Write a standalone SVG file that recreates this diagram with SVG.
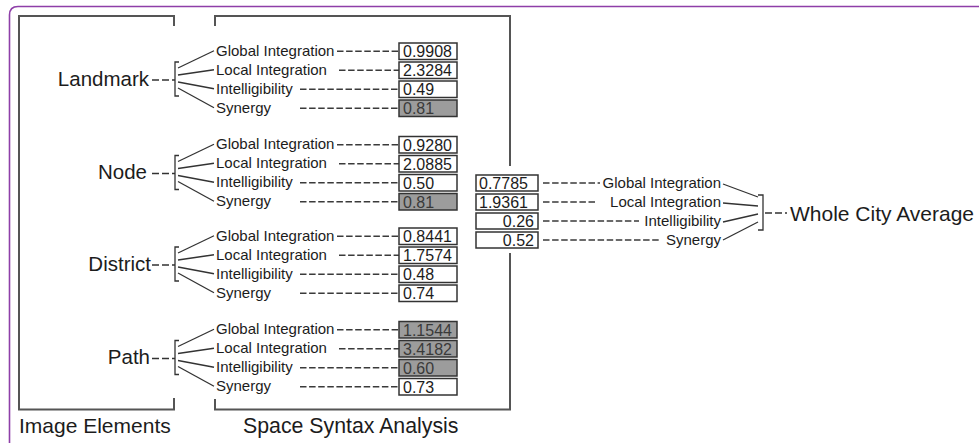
<svg xmlns="http://www.w3.org/2000/svg" width="979" height="443" viewBox="0 0 979 443">
  <style>
    text { font-family: "Liberation Sans", Arial, sans-serif; fill: #1c1c1c; }
    .cat { font-size: 20.5px; text-anchor: end; }
    .lbl { font-size: 15px; }
    .lblr { font-size: 15px; text-anchor: end; }
    .val { font-size: 16px; }
    .valr { font-size: 16px; text-anchor: end; }
    .big { font-size: 21px; }
    .box { fill: #fff; stroke: #333; stroke-width: 1.5; }
    .hi { fill: #9c9c9c; }
    .hi-t { fill: #3a3a3a; }
    .frame { fill: none; stroke: #555; stroke-width: 2; }
    .fan { stroke: #333; stroke-width: 1.3; fill: none; }
    .dash { stroke: #3a3a3a; stroke-width: 1.3; stroke-dasharray: 6.5 2.6; }
    .sdash { stroke: #333; stroke-width: 1.3; stroke-dasharray: 7 3; }
  </style>
  <defs>
    <!-- fan + bracket + dashed leaders shared by every category block (local coords) -->
    <g id="leaders">
      <line class="sdash" x1="152" y1="37" x2="175" y2="37"/>
      <path class="fan" d="M179 19 H175 V53 H179"/>
      <line class="fan" x1="178" y1="25" x2="214" y2="7.75"/>
      <line class="fan" x1="178" y1="32" x2="214" y2="26.75"/>
      <line class="fan" x1="178" y1="39" x2="214" y2="45.75"/>
      <line class="fan" x1="178" y1="45" x2="214" y2="64.75"/>
      <line class="dash" x1="337" y1="8.25" x2="399" y2="8.25"/>
      <line class="dash" x1="339" y1="27.25" x2="399" y2="27.25"/>
      <line class="dash" x1="300" y1="46.25" x2="399" y2="46.25"/>
      <line class="dash" x1="300" y1="65.25" x2="399" y2="65.25"/>
    </g>
    <g id="measures">
      <text class="lbl" x="216" y="12.75">Global Integration</text>
      <text class="lbl" x="216" y="31.75">Local Integration</text>
      <text class="lbl" x="216" y="50.75">Intelligibility</text>
      <text class="lbl" x="216" y="69.75">Synergy</text>
    </g>
  </defs>

  <rect width="979" height="443" fill="#fff"/>

  <!-- outer page edge -->
  <path d="M9.5 443 V15 Q9.5 6.5 18 6.5 H979" fill="none" stroke="#8e3fa8" stroke-width="1.6"/>

  <!-- section frames -->
  <g id="frames">
    <path class="frame" d="M174 26 V16 H19 V409.5 H174 V398"/>
    <path class="frame" d="M215 26 V16 H510 V166"/>
    <path class="frame" d="M510 253 V409.5 H215 V399"/>
    <text class="big" x="19" y="433">Image Elements</text>
    <text class="big" x="243" y="433" style="font-size:21.3px">Space Syntax Analysis</text>
  </g>

  <!-- connectors -->
  <g id="connectors">
    <use href="#leaders" transform="translate(0,43)"/>
    <use href="#leaders" transform="translate(0,136.5)"/>
    <use href="#leaders" transform="translate(0,228)"/>
    <use href="#leaders" transform="translate(0,321.5)"/>
    <!-- whole city side -->
    <line class="dash" x1="543" y1="183" x2="600" y2="183"/>
    <line class="dash" x1="543" y1="202" x2="597" y2="202"/>
    <line class="dash" x1="543" y1="221" x2="639" y2="221"/>
    <line class="dash" x1="543" y1="240" x2="660" y2="240"/>
    <line class="fan" x1="723" y1="184" x2="758" y2="197"/>
    <line class="fan" x1="723" y1="203" x2="758" y2="206"/>
    <line class="fan" x1="723" y1="222" x2="758" y2="214"/>
    <line class="fan" x1="723" y1="240" x2="758" y2="222"/>
    <path class="fan" d="M758 195 H763 V230 H758"/>
    <line class="sdash" x1="765" y1="213" x2="787" y2="213"/>
  </g>

  <!-- Landmark -->
  <g id="landmark" transform="translate(0,43)">
    <text class="cat" x="149" y="42.5">Landmark</text>
    <use href="#measures"/>
    <rect class="box" x="399" y="0" width="58" height="16.5"/>
    <rect class="box" x="399" y="19" width="58" height="16.5"/>
    <rect class="box" x="399" y="38" width="58" height="16.5"/>
    <rect class="box hi" x="399" y="57" width="58" height="16.5"/>
    <text class="val" x="403" y="14">0.9908</text>
    <text class="val" x="403" y="33">2.3284</text>
    <text class="val" x="403" y="52">0.49</text>
    <text class="val hi-t" x="403" y="71">0.81</text>
  </g>

  <!-- Node -->
  <g id="node" transform="translate(0,136.5)">
    <text class="cat" x="147" y="42">Node</text>
    <use href="#measures"/>
    <rect class="box" x="399" y="0" width="58" height="16.5"/>
    <rect class="box" x="399" y="19" width="58" height="16.5"/>
    <rect class="box" x="399" y="38" width="58" height="16.5"/>
    <rect class="box hi" x="399" y="57" width="58" height="16.5"/>
    <text class="val" x="403" y="14">0.9280</text>
    <text class="val" x="403" y="33">2.0885</text>
    <text class="val" x="403" y="52">0.50</text>
    <text class="val hi-t" x="403" y="71">0.81</text>
  </g>

  <!-- District -->
  <g id="district" transform="translate(0,228)">
    <text class="cat" x="151" y="43">District</text>
    <use href="#measures"/>
    <rect class="box" x="399" y="0" width="58" height="16.5"/>
    <rect class="box" x="399" y="19" width="58" height="16.5"/>
    <rect class="box" x="399" y="38" width="58" height="16.5"/>
    <rect class="box" x="399" y="57" width="58" height="16.5"/>
    <text class="val" x="403" y="14">0.8441</text>
    <text class="val" x="403" y="33">1.7574</text>
    <text class="val" x="403" y="52">0.48</text>
    <text class="val" x="403" y="71">0.74</text>
  </g>

  <!-- Path -->
  <g id="path" transform="translate(0,321.5)">
    <text class="cat" x="150" y="42">Path</text>
    <use href="#measures"/>
    <rect class="box hi" x="399" y="0" width="58" height="16.5"/>
    <rect class="box hi" x="399" y="19" width="58" height="16.5"/>
    <rect class="box hi" x="399" y="38" width="58" height="16.5"/>
    <rect class="box" x="399" y="57" width="58" height="16.5"/>
    <text class="val hi-t" x="403" y="14">1.1544</text>
    <text class="val hi-t" x="403" y="33">3.4182</text>
    <text class="val hi-t" x="403" y="52">0.60</text>
    <text class="val" x="403" y="71">0.73</text>
  </g>

  <!-- Whole City Average -->
  <g id="whole-city">
    <rect class="box" x="476" y="175" width="62" height="16"/>
    <rect class="box" x="476" y="194" width="62" height="16"/>
    <rect class="box" x="476" y="213" width="62" height="16"/>
    <rect class="box" x="476" y="232" width="62" height="16"/>
    <text class="val" x="479" y="188.8">0.7785</text>
    <text class="val" x="479" y="207.8">1.9361</text>
    <text class="valr" x="534" y="226.8">0.26</text>
    <text class="valr" x="534" y="245.8">0.52</text>
    <text class="lblr" x="721" y="188">Global Integration</text>
    <text class="lblr" x="721" y="207">Local Integration</text>
    <text class="lblr" x="721" y="226">Intelligibility</text>
    <text class="lblr" x="721" y="245">Synergy</text>
    <text class="big" x="790" y="220.5">Whole City Average</text>
  </g>
</svg>
